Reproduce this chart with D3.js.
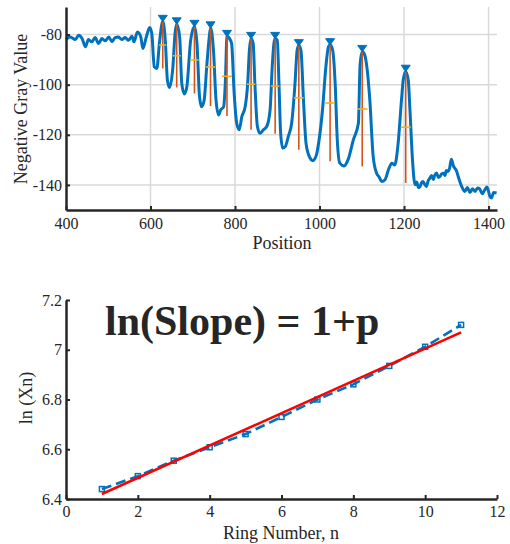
<!DOCTYPE html>
<html>
<head>
<meta charset="utf-8">
<script src="https://cdn.jsdelivr.net/npm/d3@7"></script>
<style>
  html, body { margin: 0; padding: 0; background: #fff; }
  svg { display: block; }
  text { font-family: "Liberation Serif", "Times New Roman", serif; fill: #262626; }
</style>
</head>
<body>
<svg id="chart" width="510" height="544"></svg>
<script>
// ---------- Top chart data ----------
const signalPos = [400,410,422,430,438,446,453,461,469,477,485,493,501,509,516,524,532,540,548,556,561,569,577,582,590,598,603,609,615,621,629,635,640,645,653,658,662,669,674,680,686,695,704,710,716,721,727,733,739,742,749,755,761,766,773,777,781,787,792,798,804,810,816,824,830,834,838,843,847,853,859,867,875,883,888,892,895,900,904,908,913,919,926,934,942,947,951,956,962,968,976,984,992,999,1007,1015,1021,1025,1031,1037,1042,1048,1058,1068,1080,1092,1096,1101,1107,1112,1119,1127,1135,1141,1147,1155,1163,1171,1178,1186,1194,1198,1204,1210,1214,1220,1226,1230,1234,1238,1241,1245,1249,1253,1257,1261,1265,1269,1273,1277,1281,1285,1289,1293,1297,1300,1304,1308,1312,1317,1323,1332,1338,1344,1350,1356,1362,1368,1374,1379,1385,1391,1396,1399,1403,1407,1412,1419];
const signalVal = [-82.0,-81.0,-82.0,-80.3,-81.6,-84.9,-82.0,-82.9,-81.2,-83.6,-81.6,-82.5,-81.0,-82.9,-81.2,-81.0,-82.0,-81.2,-82.3,-80.7,-82.9,-79.0,-81.0,-85.6,-81.0,-77.2,-79.6,-92.9,-93.5,-83.6,-74.8,-82.3,-98.2,-101.1,-92.9,-79.6,-75.8,-81.0,-99.5,-103.7,-100.8,-82.3,-76.8,-83.6,-104.8,-108.8,-106.1,-92.9,-81.0,-77.4,-86.2,-106.1,-112.1,-110.1,-108.8,-99.5,-80.8,-81.5,-83.6,-103.5,-115.4,-118.0,-112.8,-108.8,-99.5,-86.2,-81.6,-83.6,-99.5,-116.7,-119.4,-118.0,-116.7,-110.1,-92.9,-83.6,-81.6,-82.3,-99.5,-119.4,-125.3,-124.7,-120.7,-115.4,-99.5,-86.2,-84.5,-86.2,-106.1,-123.3,-128.7,-130.3,-128.4,-122.0,-110.1,-92.9,-84.9,-84.1,-86.2,-99.5,-122.0,-131.3,-132.4,-129.7,-122.0,-115.4,-92.0,-86.8,-88.2,-92.9,-106.1,-128.7,-135.3,-136.8,-138.6,-137.9,-134.0,-131.3,-132.0,-123.4,-106.1,-98.2,-94.7,-98.2,-110.1,-130.0,-139.9,-138.8,-141.0,-140.6,-139.2,-138.6,-139.8,-140.6,-138.4,-137.3,-136.2,-137.8,-136.0,-135.2,-137.0,-136.6,-135.6,-135.3,-136.2,-134.2,-134.6,-133.2,-129.7,-132.5,-134.0,-138.6,-141.2,-142.6,-141.0,-143.0,-141.5,-142.6,-141.2,-141.6,-143.5,-142.0,-140.8,-141.9,-144.5,-145.2,-143.0,-143.2];

const peakPos   = [629, 662, 704, 742, 781, 838, 895, 951, 1025, 1101, 1204];
const peakVal   = [-74.8, -75.8, -76.8, -77.4, -80.8, -81.6, -81.6, -84.5, -84.1, -86.8, -94.7];
const peakBase  = [-93.5, -101.1, -103.5, -108.5, -112.5, -118.0, -119.6, -126.0, -130.5, -132.6, -139.2];
const peakWidth = [17, 19, 20, 22, 24, 20, 20, 23, 23, 25, 24];

const topXTicks = [400, 600, 800, 1000, 1200, 1400];
const topXLabels = ["400", "600", "800", "1000", "1200", "1400"];
const topYTicks = [-80, -100, -120, -140];
const topYLabels = ["-80", "-100", "-120", "-140"];

// ---------- Bottom chart data ----------
const ringN = [1, 2, 3, 4, 5, 6, 7, 8, 9, 10, 11];
const lnXn  = [6.44, 6.492, 6.554, 6.608, 6.661, 6.73, 6.80, 6.861, 6.935, 7.012, 7.10];
const fitN  = [1, 11];
const fitVal = [6.42, 7.07];

const botXTicks = [0, 2, 4, 6, 8, 10, 12];
const botXLabels = ["0", "2", "4", "6", "8", "10", "12"];
const botYTicks = [6.4, 6.6, 6.8, 7.0, 7.2];
const botYLabels = ["6.4", "6.6", "6.8", "7", "7.2"];

const svg = d3.select("#chart");
const BLUE = "#0072BD", ORANGE = "#D95319", YELLOW = "#EDB120", AXIS = "#262626";

// ================= TOP CHART =================
const xT = d3.scaleLinear().domain([400, 1420]).range([66, 497]);
const yT = d3.scaleLinear().domain([-150, -69]).range([210, 7]);
const gT = svg.append("g");

// grid
gT.append("g").selectAll("line").data(topXTicks.slice(1)).join("line")
  .attr("x1", d => xT(d)).attr("x2", d => xT(d))
  .attr("y1", yT.range()[1]).attr("y2", yT.range()[0])
  .attr("stroke", "#d9d9d9").attr("stroke-width", 1.5);
gT.append("g").selectAll("line").data(topYTicks).join("line")
  .attr("x1", xT.range()[0]).attr("x2", xT.range()[1])
  .attr("y1", d => yT(d)).attr("y2", d => yT(d))
  .attr("stroke", "#d9d9d9").attr("stroke-width", 1.5);

// signal
const sig = signalPos.map((p, i) => [p, signalVal[i]]);
gT.append("path").datum(sig)
  .attr("fill", "none").attr("stroke", BLUE).attr("stroke-width", 3)
  .attr("stroke-linejoin", "round")
  .attr("d", d3.line().x(d => xT(d[0])).y(d => yT(d[1])).curve(d3.curveMonotoneX));

// prominence lines
const peaks = peakPos.map((p, i) => ({p, v: peakVal[i], b: peakBase[i], w: peakWidth[i]}));
gT.append("g").selectAll("line").data(peaks).join("line")
  .attr("x1", d => xT(d.p)).attr("x2", d => xT(d.p))
  .attr("y1", d => yT(d.v)).attr("y2", d => yT(d.b))
  .attr("stroke", ORANGE).attr("stroke-width", 1.6);
// half-prominence widths
gT.append("g").selectAll("line").data(peaks).join("line")
  .attr("x1", d => xT(d.p - d.w / 2)).attr("x2", d => xT(d.p + d.w / 2))
  .attr("y1", d => yT((d.v + d.b) / 2)).attr("y2", d => yT((d.v + d.b) / 2))
  .attr("stroke", YELLOW).attr("stroke-width", 1.6);
// peak markers (downward triangles)
gT.append("g").selectAll("path").data(peaks).join("path")
  .attr("transform", d => `translate(${xT(d.p)},${yT(d.v) - 3})`)
  .attr("d", "M-4.5,-3.2L4.5,-3.2L0,3.2Z")
  .attr("fill", BLUE).attr("stroke", BLUE).attr("stroke-width", 1);

// axes
const axTX = d3.axisBottom(xT).tickValues(topXTicks)
  .tickFormat((d, i) => topXLabels[i]).tickSizeInner(-4).tickSizeOuter(0).tickPadding(8);
const axTY = d3.axisLeft(yT).tickValues(topYTicks)
  .tickFormat((d, i) => topYLabels[i]).tickSizeInner(-4).tickSizeOuter(0).tickPadding(4);
const gxT = gT.append("g").attr("transform", `translate(0,${yT.range()[0]})`).call(axTX);
const gyT = gT.append("g").attr("transform", `translate(${xT.range()[0]},0)`).call(axTY);
[gxT, gyT].forEach(g => {
  g.select(".domain").attr("stroke", AXIS).attr("stroke-width", 2.5);
  g.selectAll(".tick line").attr("stroke", AXIS).attr("stroke-width", 2);
  g.selectAll(".tick text").attr("font-size", 16).attr("fill", AXIS)
    .style("font-family", "'Liberation Serif', serif");
});

gT.append("text").attr("x", 282).attr("y", 249).attr("text-anchor", "middle")
  .attr("font-size", 18).text("Position");
gT.append("text").attr("transform", "translate(27,109) rotate(-90)")
  .attr("text-anchor", "middle").attr("font-size", 18).text("Negative Gray Value");

// ================= BOTTOM CHART =================
const xB = d3.scaleLinear().domain([0, 12]).range([66, 497]);
const yB = d3.scaleLinear().domain([6.4, 7.2]).range([499, 300]);
const gB = svg.append("g");

const pts = ringN.map((n, i) => [n, lnXn[i]]);
gB.append("path").datum(pts)
  .attr("fill", "none").attr("stroke", BLUE).attr("stroke-width", 2.6)
  .attr("stroke-dasharray", "10,5")
  .attr("d", d3.line().x(d => xB(d[0])).y(d => yB(d[1])));
gB.append("g").selectAll("rect").data(pts).join("rect")
  .attr("x", d => xB(d[0]) - 2.5).attr("y", d => yB(d[1]) - 2.5)
  .attr("width", 5).attr("height", 5)
  .attr("fill", "none").attr("stroke", BLUE).attr("stroke-width", 1.5);

const fit = fitN.map((n, i) => [n, fitVal[i]]);
gB.append("path").datum(fit)
  .attr("fill", "none").attr("stroke", "#ff0000").attr("stroke-width", 2.6)
  .attr("d", d3.line().x(d => xB(d[0])).y(d => yB(d[1])));

const axBX = d3.axisBottom(xB).tickValues(botXTicks)
  .tickFormat((d, i) => botXLabels[i]).tickSizeInner(-4).tickSizeOuter(0).tickPadding(7);
const axBY = d3.axisLeft(yB).tickValues(botYTicks)
  .tickFormat((d, i) => botYLabels[i]).tickSizeInner(-4).tickSizeOuter(0).tickPadding(4);
const gxB = gB.append("g").attr("transform", `translate(0,${yB.range()[0]})`).call(axBX);
const gyB = gB.append("g").attr("transform", `translate(${xB.range()[0]},0)`).call(axBY);
[gxB, gyB].forEach(g => {
  g.select(".domain").attr("stroke", AXIS).attr("stroke-width", 2.5);
  g.selectAll(".tick line").attr("stroke", AXIS).attr("stroke-width", 2);
  g.selectAll(".tick text").attr("font-size", 16).attr("fill", AXIS)
    .style("font-family", "'Liberation Serif', serif");
});

gB.append("text").attr("x", 281).attr("y", 539).attr("text-anchor", "middle")
  .attr("font-size", 18).text("Ring Number, n");
gB.append("text").attr("transform", "translate(32,398) rotate(-90)")
  .attr("text-anchor", "middle").attr("font-size", 18).text("ln (Xn)");

gB.append("text").attr("x", 105).attr("y", 335)
  .attr("font-size", 42).attr("font-weight", "bold").attr("fill", "#000")
  .text("ln(Slope) = 1+p");
</script>
</body>
</html>
